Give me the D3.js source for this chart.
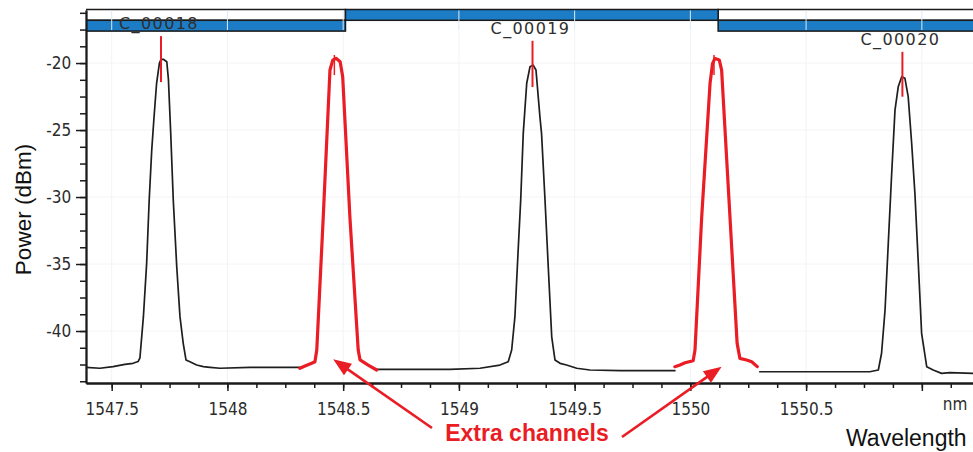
<!DOCTYPE html>
<html>
<head>
<meta charset="utf-8">
<script src="https://cdn.jsdelivr.net/npm/d3@7"></script>
<style>
  html, body { margin: 0; padding: 0; background: #fff; }
  svg { display: block; }
</style>
</head>
<body>
<svg id="chart" width="973" height="452"></svg>
<script>
// ---- Spectrum trace, split into segments: [wavelength (nm), power (dBm)] ----
const traceC18 = [
  [1547.389,-42.72],[1547.449,-42.78],[1547.506,-42.66],[1547.557,-42.49],[1547.592,-42.41],
  [1547.614,-42.28],[1547.622,-42.01],[1547.637,-38.93],[1547.651,-34.95],[1547.662,-30.22],
  [1547.673,-26.49],[1547.683,-24.01],[1547.694,-21.51],[1547.706,-20.02],[1547.713,-19.72],
  [1547.723,-19.72],[1547.738,-19.90],[1547.745,-21.20],[1547.755,-25.25],[1547.766,-30.22],
  [1547.781,-35.20],[1547.795,-38.93],[1547.809,-40.92],[1547.821,-42.16],[1547.838,-42.29],
  [1547.867,-42.54],[1547.896,-42.66],[1547.925,-42.71],[1547.968,-42.78],[1548.098,-42.72],
  [1548.314,-42.72]
];
const extraA = [
  [1548.313,-42.78],[1548.335,-42.61],[1548.364,-42.41],[1548.378,-42.29],[1548.386,-41.42],
  [1548.414,-31.47],[1548.443,-20.52],[1548.455,-19.78],[1548.469,-19.65],[1548.487,-19.90],
  [1548.498,-21.02],[1548.529,-31.47],[1548.565,-41.42],[1548.573,-42.16],[1548.608,-42.54],
  [1548.645,-42.91]
];
const traceC19 = [
  [1548.638,-42.86],[1548.745,-42.86],[1548.961,-42.86],[1549.091,-42.78],[1549.177,-42.54],
  [1549.213,-42.29],[1549.228,-41.42],[1549.242,-38.93],[1549.256,-33.96],[1549.267,-30.22],
  [1549.278,-25.25],[1549.293,-21.51],[1549.307,-20.28],[1549.321,-20.15],[1549.333,-20.52],
  [1549.350,-24.01],[1549.357,-25.25],[1549.372,-30.22],[1549.386,-35.20],[1549.401,-40.43],
  [1549.415,-42.16],[1549.437,-42.41],[1549.465,-42.54],[1549.509,-42.78],[1549.566,-42.91],
  [1549.696,-42.96],[1549.933,-42.96]
];
const extraB = [
  [1549.933,-42.66],[1549.955,-42.54],[1549.977,-42.37],[1550.012,-42.22],[1550.020,-41.42],
  [1550.049,-31.47],[1550.085,-21.51],[1550.096,-20.02],[1550.106,-19.65],[1550.125,-19.78],
  [1550.135,-20.52],[1550.171,-31.47],[1550.202,-40.92],[1550.214,-42.04],[1550.243,-42.16],
  [1550.265,-42.29],[1550.289,-42.66]
];
const traceC20 = [
  [1550.300,-43.04],[1550.559,-43.04],[1550.775,-43.04],[1550.812,-42.91],[1550.826,-41.66],
  [1550.841,-38.43],[1550.855,-33.46],[1550.869,-28.49],[1550.884,-23.51],[1550.898,-21.77],
  [1550.913,-21.02],[1550.927,-21.14],[1550.941,-22.51],[1550.956,-25.99],[1550.970,-29.72],
  [1550.984,-34.70],[1550.999,-40.17],[1551.021,-42.66],[1551.049,-42.91],[1551.085,-43.16],
  [1551.121,-43.11],[1551.221,-43.16]
];

// ---- Channel plan ----
const channelNames   = ["C_00018", "C_00019", "C_00020"];
const channelPeaks   = [1547.713, 1549.318, 1550.916];   // marker wavelength
const markerTop      = [-17.99, -18.34, -19.16];         // dBm
const markerBottom   = [-21.42, -21.79, -22.51];
const bandEdges      = [1546.92, 1548.51, 1550.12, 1551.72];
const bandRows       = [1, 0, 1];

// Extra (unassigned) channels and their arrows
const extraPeaks        = [1548.462, 1550.102];
const extraMarkerTop    = [-19.40, -19.40];
const extraMarkerBottom = [-20.90, -20.90];
const arrowTips         = [[1548.457, -42.11], [1550.135, -42.66]];
const annotationText    = "Extra channels";

// ---- Axis ticks ----
const xMajorTicks = [1547.5, 1548, 1548.5, 1549, 1549.5, 1550, 1550.5, 1551];
const xTickLabels = ["1547.5", "1548", "1548.5", "1549", "1549.5", "1550", "1550.5", ""];
const xMinorStep  = 0.125;
const yMajorTicks = [-20, -25, -30, -35, -40];
const yTickLabels = ["-20", "-25", "-30", "-35", "-40"];
const yMinorStep  = 1.25;

// ---- Layout ----
const W = 973, H = 452;
const plot = { left: 86, right: 973, top: 10, bottom: 383 };
const header = { top: 9.5, mid: 20.3, bottom: 31 };
const BLUE = "#1c7dc6", RED = "#ea1c24", INK = "#1a1a1a";

const svg = d3.select("#chart");

const x = d3.scaleLinear().domain([1547.389, 1551.221]).range([plot.left, plot.right]);
const y = d3.scaleLinear().domain([-43.88, -16.04]).range([plot.bottom, plot.top]);

svg.append("defs").append("clipPath").attr("id", "plotClip")
  .append("rect")
  .attr("x", plot.left).attr("y", 0)
  .attr("width", plot.right - plot.left).attr("height", plot.bottom);

// Faint grid
const grid = svg.append("g").attr("clip-path", "url(#plotClip)");
grid.selectAll("line.gx").data(xMajorTicks).join("line")
  .attr("x1", d => x(d)).attr("x2", d => x(d))
  .attr("y1", header.bottom).attr("y2", plot.bottom)
  .attr("stroke", "#f1f3f6").attr("stroke-width", 1);
grid.selectAll("line.gy").data(yMajorTicks).join("line")
  .attr("x1", plot.left).attr("x2", plot.right)
  .attr("y1", d => y(d)).attr("y2", d => y(d))
  .attr("stroke", "#f3f4f6").attr("stroke-width", 1);

// Channel bands along the top
const bands = channelNames.map((name, i) => ({
  name, from: bandEdges[i], to: bandEdges[i + 1], row: bandRows[i]
}));
const rowY = r => r === 0 ? header.top : header.mid;
const rowH = header.mid - header.top;

const hdr = svg.append("g").attr("clip-path", "url(#plotClip)");
// empty upper-row frames for bands on the lower row
hdr.selectAll("rect.frame").data(bands.filter(b => b.row === 1)).join("rect")
  .attr("x", d => x(d.from)).attr("y", header.top)
  .attr("width", d => x(d.to) - x(d.from)).attr("height", rowH)
  .attr("fill", "#fff").attr("stroke", INK).attr("stroke-width", 1.5);
hdr.selectAll("rect.band").data(bands).join("rect")
  .attr("x", d => x(d.from)).attr("y", d => rowY(d.row))
  .attr("width", d => x(d.to) - x(d.from)).attr("height", rowH)
  .attr("fill", BLUE).attr("stroke", INK).attr("stroke-width", 1.5);
// grid lines show through the blue bands
hdr.selectAll("line.bg").data(xMajorTicks).join("line")
  .attr("x1", d => x(d)).attr("x2", d => x(d))
  .attr("y1", header.top + 1).attr("y2", header.bottom - 1)
  .attr("stroke", "#dbeaf6").attr("stroke-width", 1);

// Trace
const line = d3.line().x(d => x(d[0])).y(d => y(d[1]));
const traces = svg.append("g").attr("clip-path", "url(#plotClip)").attr("fill", "none")
  .attr("stroke-linejoin", "round").attr("stroke-linecap", "round");
[traceC18, traceC19, traceC20].forEach(seg => {
  traces.append("path").datum(seg).attr("d", line)
    .attr("stroke", "#1e1e1e").attr("stroke-width", 1.7);
});
[extraA, extraB].forEach(seg => {
  traces.append("path").datum(seg).attr("d", line)
    .attr("stroke", RED).attr("stroke-width", 3.2);
});

// Peak markers
const markers = svg.append("g").attr("stroke", RED).attr("stroke-width", 2);
channelPeaks.forEach((p, i) => {
  markers.append("line").attr("x1", x(p)).attr("x2", x(p))
    .attr("y1", y(markerTop[i])).attr("y2", y(markerBottom[i]));
});
extraPeaks.forEach((p, i) => {
  markers.append("line").attr("x1", x(p)).attr("x2", x(p))
    .attr("y1", y(extraMarkerTop[i])).attr("y2", y(extraMarkerBottom[i]))
    .attr("stroke-width", 1.5);
});

// Channel labels above the markers
svg.append("g").selectAll("text").data(channelNames).join("text")
  .attr("x", (d, i) => x(channelPeaks[i]) - 2)
  .attr("y", (d, i) => y(markerTop[i]) - 7)
  .attr("text-anchor", "middle")
  .attr("font-family", "DejaVu Sans, Verdana, sans-serif")
  .attr("font-size", 16).attr("letter-spacing", 1.4)
  .attr("fill", "#2e2e2e")
  .text(d => d);

// Axes
const tickFont = "DejaVu Sans Condensed, DejaVu Sans, sans-serif";
const xMinor = d3.range(1547.5, 1551.2, xMinorStep);
const yMinor = d3.range(-16.25, -43.9, -yMinorStep);

const xAxisMinor = d3.axisBottom(x).tickValues(xMinor).tickSize(5).tickSizeOuter(0).tickFormat("");
const xAxisMajor = d3.axisBottom(x).tickValues(xMajorTicks).tickSize(8).tickSizeOuter(0)
  .tickFormat((d, i) => xTickLabels[i]);
const yAxisMinor = d3.axisLeft(y).tickValues(yMinor).tickSize(6).tickSizeOuter(0).tickFormat("");
const yAxisMajor = d3.axisLeft(y).tickValues(yMajorTicks).tickSize(10).tickSizeOuter(0)
  .tickFormat((d, i) => yTickLabels[i]);

function styleAxis(g) {
  g.selectAll(".domain").attr("stroke", INK).attr("stroke-width", 1.8);
  g.selectAll(".tick line").attr("stroke", INK).attr("stroke-width", 1.5);
  g.selectAll(".tick text").attr("fill", "#2b2b2b")
    .attr("font-family", tickFont).attr("font-size", 17);
}

svg.append("g").attr("transform", `translate(0,${plot.bottom})`).call(xAxisMinor).call(styleAxis);
svg.append("g").attr("transform", `translate(0,${plot.bottom})`).call(xAxisMajor).call(styleAxis)
  .selectAll(".tick text").attr("dy", "1.25em");
svg.append("g").attr("transform", `translate(${plot.left},0)`).call(yAxisMinor).call(styleAxis);
svg.append("g").attr("transform", `translate(${plot.left},0)`).call(yAxisMajor).call(styleAxis)
  .selectAll(".tick text").attr("dx", "-0.1em");

// Unit and axis titles
svg.append("text").attr("x", 955).attr("y", 410)
  .attr("text-anchor", "middle").attr("font-family", tickFont).attr("font-size", 17)
  .attr("fill", "#2b2b2b").text("nm");
svg.append("text").attr("x", 846).attr("y", 446)
  .attr("font-family", "Liberation Sans, Arial, sans-serif").attr("font-size", 23)
  .attr("fill", "#111").text("Wavelength");
svg.append("text")
  .attr("transform", `translate(31,${(plot.top + plot.bottom) / 2 + 13}) rotate(-90)`)
  .attr("text-anchor", "middle")
  .attr("font-family", "Liberation Sans, Arial, sans-serif").attr("font-size", 22.5)
  .attr("fill", "#111").text("Power (dBm)");

// "Extra channels" annotation with arrows to the extra peaks
const note = { x: 527, y: 441 };
const tails = [[note.x - 95, note.y - 13], [note.x + 95, note.y - 4]];
svg.append("text").attr("x", note.x).attr("y", note.y)
  .attr("text-anchor", "middle")
  .attr("font-family", "Liberation Sans, Arial, sans-serif")
  .attr("font-weight", "bold").attr("font-size", 23)
  .attr("fill", RED).text(annotationText);

const arrows = svg.append("g");
arrowTips.forEach((tip, i) => {
  const tx = x(tip[0]), ty = y(tip[1]);
  const [sx, sy] = tails[i];
  const dx = tx - sx, dy = ty - sy, len = Math.hypot(dx, dy);
  const ux = dx / len, uy = dy / len;
  const headL = 18, headW = 7;
  const bx = tx - ux * headL, by = ty - uy * headL;
  arrows.append("line")
    .attr("x1", sx).attr("y1", sy).attr("x2", bx + ux * 2).attr("y2", by + uy * 2)
    .attr("stroke", RED).attr("stroke-width", 2.6);
  arrows.append("path")
    .attr("d", `M${tx},${ty}L${bx - uy * headW},${by + ux * headW}L${bx + uy * headW},${by - ux * headW}Z`)
    .attr("fill", RED);
});
</script>
</body>
</html>
